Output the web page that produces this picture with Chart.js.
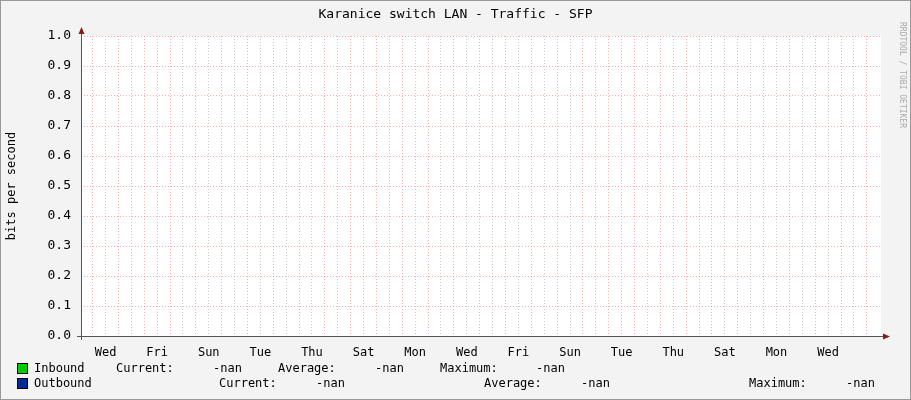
<!DOCTYPE html>
<html><head>
<script src="https://cdn.jsdelivr.net/npm/chart.js@4"></script>
<style>body{margin:0;background:#f3f3f3}#wrap{width:911px;height:400px}</style>
</head><body><div id="wrap"><canvas id="c"></canvas></div>
<script>
var title = 'Karanice switch LAN - Traffic - SFP';
var dayLabels = ['Wed','Fri','Sun','Tue','Thu','Sat','Mon','Wed','Fri','Sun','Tue','Thu','Sat','Mon','Wed'];
var yTicks = [0,0.1,0.2,0.3,0.4,0.5,0.6,0.7,0.8,0.9,1.0];
var inbound = [];   // all -nan
var outbound = [];
var xMin = -0.45, xMax = 30.55;
var mono = '"DejaVu Sans Mono", monospace';

var decor = {
  id: 'decor',
  beforeDraw: function(ch){
    var c = ch.ctx;
    c.save();
    c.fillStyle = '#f3f3f3'; c.fillRect(0,0,ch.width,ch.height);
    var a = ch.chartArea;
    c.fillStyle = '#ffffff'; c.fillRect(a.left,a.top,a.right-a.left,a.bottom-a.top);
    c.restore();
  },
  afterDraw: function(ch){
    var c = ch.ctx, a = ch.chartArea;
    c.save();
    c.strokeStyle = '#999'; c.lineWidth = 1;
    c.strokeRect(0.5,0.5,ch.width-1,ch.height-1);
    // axes
    c.strokeStyle = '#555';
    c.beginPath();
    c.moveTo(a.left+0.5, a.bottom+4); c.lineTo(a.left+0.5, a.top-6);
    c.moveTo(a.left-4, a.bottom+0.5); c.lineTo(a.right+4, a.bottom+0.5);
    c.stroke();
    c.fillStyle = '#8b1a1a';
    c.beginPath(); c.moveTo(a.left-2.5,a.top-2); c.lineTo(a.left+3.5,a.top-2); c.lineTo(a.left+0.5,a.top-9); c.fill();
    c.beginPath(); c.moveTo(a.right+2,a.bottom-2.5); c.lineTo(a.right+2,a.bottom+3.5); c.lineTo(a.right+9,a.bottom+0.5); c.fill();
    c.fillStyle = '#000';
    c.font = '13px ' + mono; c.textAlign = 'center'; c.textBaseline = 'middle';
    c.fillText(title, ch.width/2, 15);
    c.font = '12px ' + mono;
    c.save(); c.translate(12, (a.top+a.bottom)/2); c.rotate(-Math.PI/2); c.fillText('bits per second',0,0); c.restore();
    c.save(); c.fillStyle = '#aaa'; c.font = '8px ' + mono; c.translate(902, 75); c.rotate(Math.PI/2); c.fillText('RRDTOOL / TOBI OETIKER',0,0); c.restore();
    // legend
    c.textAlign = 'left'; c.font = '12px ' + mono; c.fillStyle = '#000';
    var rows = [
      {col:'#00cc00', y:369, parts:[[34,'Inbound'],[116,'Current:'],[213,'-nan'],[278,'Average:'],[375,'-nan'],[440,'Maximum:'],[536,'-nan']]},
      {col:'#002a97', y:384, parts:[[34,'Outbound'],[219,'Current:'],[316,'-nan'],[484,'Average:'],[581,'-nan'],[749,'Maximum:'],[846,'-nan']]}
    ];
    rows.forEach(function(r){
      c.fillStyle = r.col; c.fillRect(18, r.y-5, 9, 9);
      c.strokeStyle = '#000'; c.strokeRect(17.5, r.y-5.5, 10, 10);
      c.fillStyle = '#000';
      r.parts.forEach(function(p){ c.fillText(p[1], p[0], r.y); });
    });
    c.restore();
  }
};

new Chart(document.getElementById('c'), {
  type: 'line',
  data: { datasets: [
    { label: 'Inbound', data: inbound, borderColor: '#00cc00' },
    { label: 'Outbound', data: outbound, borderColor: '#002a97' }
  ]},
  options: {
    responsive: true, maintainAspectRatio: false, animation: false,
    layout: { padding: { top: 36, right: 30, left: 0, bottom: 0 } },
    plugins: { legend: { display: false }, tooltip: { enabled: false } },
    scales: {
      x: {
        type: 'linear', min: xMin, max: xMax,
        afterBuildTicks: function(s){
          var t = [];
          for (var v = 0; v <= 30.5; v += 0.5) t.push({value: v});
          s.ticks = t;
        },
        afterFit: function(s){ s.height = 64; },
        border: { display: false, dash: [1,2] },
        grid: {
          color: function(ctx){ return Number.isInteger(ctx.tick.value) ? 'rgba(255,120,120,0.6)' : 'rgba(170,170,170,0.6)'; },
          drawTicks: false
        },
        ticks: {
          autoSkip: false, maxRotation: 0, padding: 10, color: '#000',
          font: { family: mono, size: 12 },
          callback: function(v){
            var k = v - 0.5;
            if (Math.abs(k - Math.round(k)) < 1e-6 && Math.round(k) % 2 === 0) return dayLabels[Math.round(k)/2];
            return '';
          }
        }
      },
      y: {
        min: 0, max: 1,
        afterBuildTicks: function(s){ s.ticks = yTicks.map(function(v){ return {value: v}; }); },
        afterFit: function(s){ s.width = 81; },
        border: { display: false, dash: [1,2] },
        grid: { color: 'rgba(255,120,120,0.6)', drawTicks: false },
        ticks: {
          color: '#000', padding: 10, font: { family: mono, size: 13 },
          callback: function(v){ return v.toFixed(1); }
        }
      }
    }
  },
  plugins: [decor]
});
</script></body></html>
